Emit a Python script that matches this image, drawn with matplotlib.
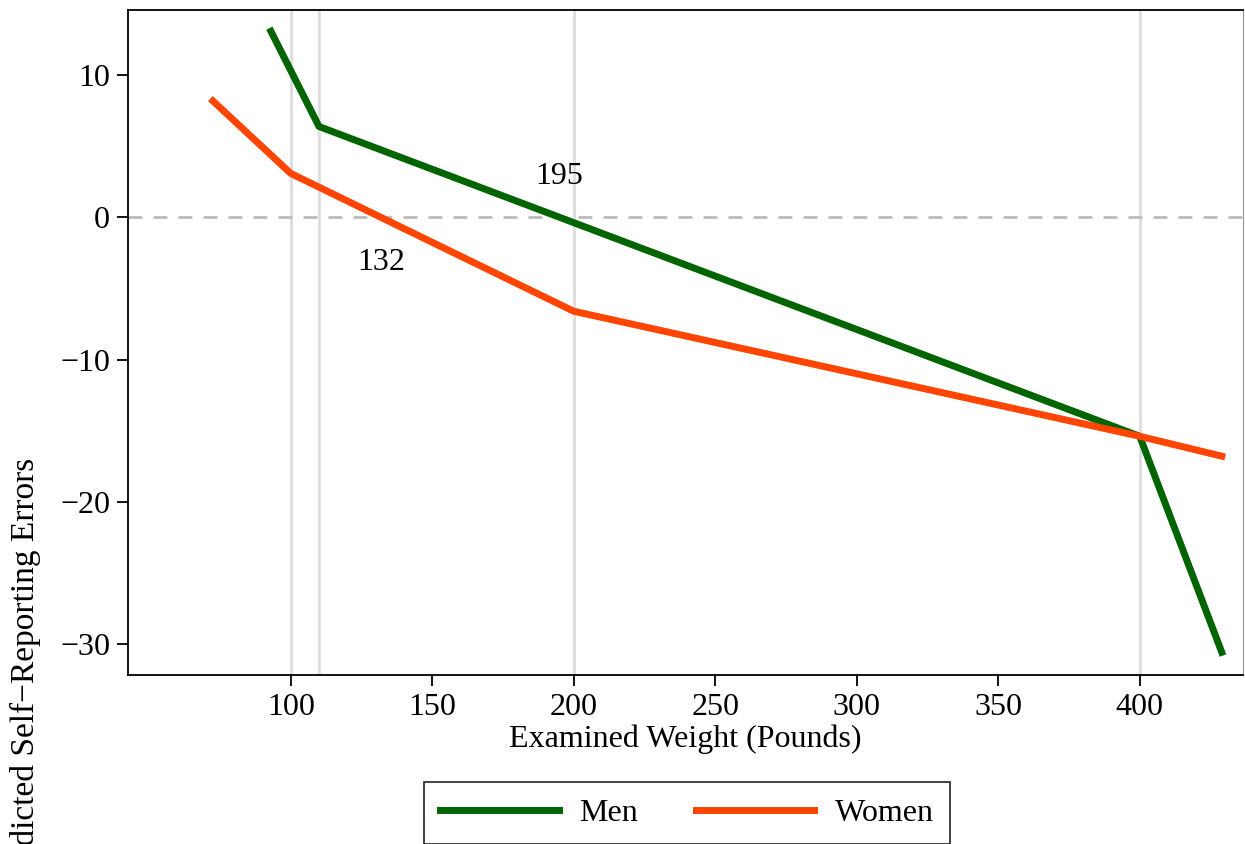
import matplotlib
matplotlib.use("Agg")
import matplotlib.pyplot as plt

plt.rcParams['font.family'] = ['Liberation Serif', 'DejaVu Serif']
plt.rcParams['axes.unicode_minus'] = True

# spline fits of self-reporting error on examined weight
men_x = [93, 110, 400, 429]
men_y = [13.1, 6.4, -15.4, -30.6]
women_x = [72.5, 100, 200, 400, 429]
women_y = [8.2, 3.1, -6.6, -15.4, -16.8]
knots = [100, 110, 200, 400]
xticks = [100, 150, 200, 250, 300, 350, 400]
yticks = [-30, -20, -10, 0, 10]

fig = plt.figure(figsize=(12.45, 8.44), dpi=100)
ax = fig.add_axes([128 / 1245, 1 - 675 / 844, (1243 - 128) / 1245, (675 - 10) / 844])

for k in knots:
    ax.axvline(k, color='#dddddd', lw=2, zorder=1)
ax.axhline(0, color='#bbbbbb', lw=2, ls=(0, (5, 4)), zorder=1)

ax.plot(men_x, men_y, color='#006400', lw=5, label='Men', zorder=3)
ax.plot(women_x, women_y, color='#ff4500', lw=5, label='Women', zorder=3)

ax.text(195, 2.9, '195', fontsize=23, ha='center', va='center')
ax.text(132, -3.2, '132', fontsize=23, ha='center', va='center')

ax.set_xlim(42.5, 436.5)
ax.set_ylim(-32.2, 14.6)
ax.set_xticks(xticks)
ax.set_yticks(yticks)
ax.tick_params(labelsize=23, length=8, width=1.3, direction='out', pad=5)
ax.set_xlabel('Examined Weight (Pounds)', fontsize=23, labelpad=2)
for s in ['left', 'top', 'bottom']:
    ax.spines[s].set_linewidth(1.3)
ax.spines['right'].set_color('#999999')

# label is cut off at the bottom edge, as in the original figure
fig.text(25 / 1245, 1 - 458 / 844, 'Predicted Self\u2212Reporting Errors', rotation=90,
         fontsize=24, ha='center', va='top')

leg = fig.legend(loc='center', bbox_to_anchor=(687 / 1245, 1 - 813 / 844), ncol=2,
                 fontsize=23, frameon=True, fancybox=False, edgecolor='black',
                 handlelength=3.7, columnspacing=1.8, handletextpad=0.65,
                 borderpad=0.5, borderaxespad=0.5)
leg.get_frame().set_linewidth(1.3)

fig.savefig('out.png', dpi=100)
